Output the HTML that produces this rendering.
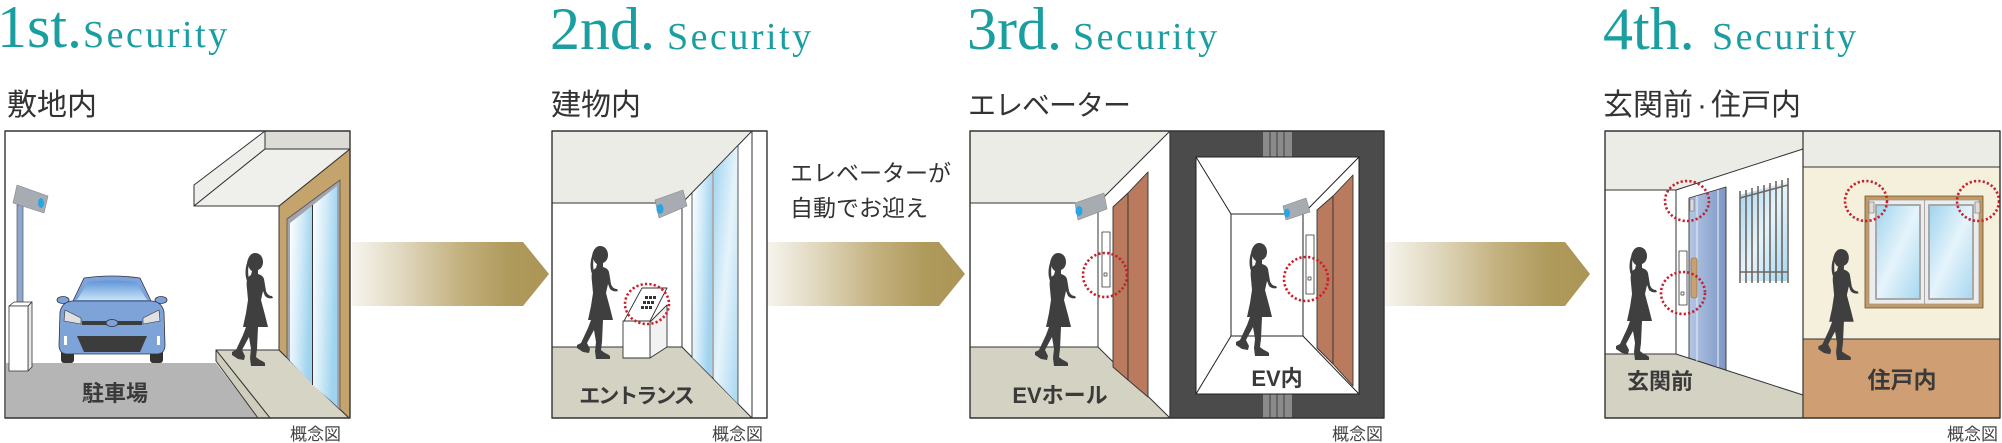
<!DOCTYPE html>
<html><head><meta charset="utf-8"><style>
html,body{margin:0;padding:0;background:#fff;}
svg{display:block;}
.jp{font-family:"Liberation Sans","Noto Sans CJK JP",sans-serif;}
.lbl{font-family:"Liberation Sans","Noto Sans CJK JP",sans-serif;font-weight:bold;fill:#3a3a3a;text-anchor:middle;}
.gn{font-family:"Liberation Sans","Noto Sans CJK JP",sans-serif;fill:#444;text-anchor:end;font-size:17px;}
.ttl{font-family:"Liberation Serif",serif;fill:#1a9ea0;}
</style></head><body>
<svg width="2002" height="443" viewBox="0 0 2002 443" xmlns="http://www.w3.org/2000/svg">
<defs>
<linearGradient id="ag" x1="0" y1="0" x2="1" y2="0">
<stop offset="0" stop-color="#f6f4ee"/><stop offset="0.25" stop-color="#e0d8bf"/><stop offset="0.55" stop-color="#c3b17f"/><stop offset="0.8" stop-color="#af9a5c"/><stop offset="1" stop-color="#ab9556"/>
</linearGradient>
<linearGradient id="gl" x1="0" y1="0" x2="1" y2="0.3">
<stop offset="0" stop-color="#ffffff"/><stop offset="0.5" stop-color="#d4ecf8"/><stop offset="1" stop-color="#9fd3ef"/>
</linearGradient>
<linearGradient id="gl2" x1="0" y1="0" x2="1" y2="1">
<stop offset="0" stop-color="#9fd3ef"/><stop offset="0.5" stop-color="#e6f4fb"/><stop offset="1" stop-color="#a6d7f1"/>
</linearGradient>
<linearGradient id="ws" x1="0" y1="0" x2="0" y2="1">
<stop offset="0" stop-color="#5f95d8"/><stop offset="1" stop-color="#c5e2f6"/>
</linearGradient>
<linearGradient id="dr" x1="0" y1="0" x2="1" y2="0">
<stop offset="0" stop-color="#b4c6e4"/><stop offset="1" stop-color="#7e97c4"/>
</linearGradient>
<symbol id="p" viewBox="0 0 42 115">
<path fill="#3f3f3f" d="M23,0 C28,0 31,4 31,9 C31,13 29,16 26,17 L26,21 C29,22 31,23 32,26 L34,38 C35,41 37,43 40,43 L41,45 C38,46 35,45 33,43 L31,38 L29,47 L33,62 L36,74 L26,74 L25,96 L24,104 C27,107 31,108 33,110 L33,113 L19,113 L18,105 L19,96 L17,84 L10,97 L13,103 L12,107 L6,106 L0,102 L0,99 L4,97 L11,82 L14,74 L11,74 L14,60 L16,47 L15,36 C14,28 15,24 19,22 L20,18 C18,17 17,15 16.5,13 C16,17 16,22 17,26 L15,28 C13,23 13,16 15,10 C16,4 19,0 23,0 Z"/>
</symbol>
</defs>

<!-- Titles -->
<text class="ttl" x="-3" y="47"><tspan font-size="60">1st.</tspan><tspan x="83" font-size="38" letter-spacing="2.5">Security</tspan></text>
<text class="ttl" x="550" y="49"><tspan font-size="60">2nd.</tspan><tspan x="667" font-size="38" letter-spacing="2.5">Security</tspan></text>
<text class="ttl" x="967" y="49"><tspan font-size="60">3rd.</tspan><tspan x="1073" font-size="38" letter-spacing="2.5">Security</tspan></text>
<text class="ttl" x="1603" y="49"><tspan font-size="60">4th.</tspan><tspan x="1712" font-size="38" letter-spacing="2.5">Security</tspan></text>

<!-- Headings -->
<text class="jp" x="7" y="115" font-size="30" fill="#333">敷地内</text>
<text class="jp" x="551" y="115" font-size="30" fill="#333">建物内</text>
<text class="jp" x="968" y="115" font-size="28" letter-spacing="-1" fill="#333">エレベーター</text>
<text class="jp" x="1603" y="115" font-size="30" fill="#333">玄関前<tspan dx="4">·</tspan><tspan dx="4">住戸内</tspan></text>

<!-- Arrow 2 caption -->
<text class="jp" x="790" y="181" font-size="23" fill="#333">エレベーターが</text>
<text class="jp" x="790" y="216" font-size="23" fill="#333">自動でお迎え</text>

<!-- Arrows -->
<polygon points="352,242 523,242 549,274 523,306 352,306" fill="url(#ag)"/>
<polygon points="767,242 939,242 965,274 939,306 767,306" fill="url(#ag)"/>
<polygon points="1385,242 1565,242 1590,274 1565,306 1385,306" fill="url(#ag)"/>

<!-- ================= PANEL 1 ================= -->
<g stroke-linejoin="round">
<rect x="5" y="131" width="345" height="287" fill="#fff"/>
<polygon points="6,363 216,363 258,418 6,418" fill="#b5b5b5"/>
<polygon points="216,350 279,350 349,418 270,418" fill="#d6d4c4" stroke="#333" stroke-width="1"/>
<polygon points="216,350 270,418 258,418 216,361" fill="#cfcdbc" stroke="#333" stroke-width="1"/>
<polygon points="279,206 350,149 350,418 349,418 279,350" fill="#c4a46c" stroke="#333" stroke-width="1"/>
<polygon points="287,219 340,180 340,410 287,358" fill="#a2a3ad" stroke="#555" stroke-width="0.8"/>
<polygon points="290,223 312,206 312,384 290,361" fill="url(#gl)"/>
<polygon points="313,205 337,186 337,406 313,385" fill="url(#gl)"/>
<line x1="312.5" y1="205" x2="312.5" y2="385" stroke="#333" stroke-width="1"/>
<polygon points="194,185 265,131 265,149 194,206" fill="#eeeeea" stroke="#333" stroke-width="1"/>
<polygon points="194,206 265,149 350,149 279,206" fill="#efefeb" stroke="#333" stroke-width="1"/>
<rect x="265" y="131" width="85" height="18" fill="#dcdbd6" stroke="#333" stroke-width="1"/>
<rect x="17" y="205" width="6" height="100" fill="#8ea7cc" stroke="#556" stroke-width="0.7"/>
<polygon points="17,185 48,196 44,213 13,203" fill="#a7abb2" stroke="#888" stroke-width="0.6"/>
<ellipse cx="41" cy="203" rx="3" ry="5" fill="#28a5e2"/>
<polygon points="9,306 14,302 32,302 28,306" fill="#fff" stroke="#333" stroke-width="0.8"/>
<polygon points="28,306 32,302 32,367 28,371" fill="#e8e8e8" stroke="#333" stroke-width="0.8"/>
<rect x="9" y="306" width="19" height="65" fill="#fff" stroke="#333" stroke-width="0.8"/>
<rect x="61" y="348" width="13" height="15" rx="3" fill="#333"/>
<rect x="150" y="348" width="13" height="15" rx="3" fill="#333"/>
<ellipse cx="63" cy="300" rx="6" ry="3.5" fill="#7ea3d8" stroke="#334" stroke-width="0.8"/>
<ellipse cx="161" cy="300" rx="6" ry="3.5" fill="#7ea3d8" stroke="#334" stroke-width="0.8"/>
<path d="M72,303 L84,278 Q112,274 140,278 L152,303 Z" fill="#7ea3d8" stroke="#334" stroke-width="0.8"/>
<path d="M77,300 L88,282 Q112,279 136,282 L147,300 Z" fill="url(#ws)"/>
<path d="M60,312 Q62,302 72,301 L152,301 Q162,302 164,312 L165,345 Q165,353 158,354 L66,354 Q59,353 59,345 Z" fill="#7ea3d8" stroke="#334" stroke-width="0.8"/>
<polygon points="65,310 81,318 81,324 64,321" fill="#e0e0e0" stroke="#333" stroke-width="0.6"/>
<polygon points="159,310 143,318 143,324 160,321" fill="#e0e0e0" stroke="#333" stroke-width="0.6"/>
<rect x="82" y="321" width="60" height="4" fill="#3c3c3c"/>
<ellipse cx="112" cy="323" rx="6" ry="3.5" fill="#7ea3d8" stroke="#333" stroke-width="0.8"/>
<polygon points="77,336 147,336 140,352 84,352" fill="#3c3c3c"/>
<rect x="64" y="336" width="3" height="9" fill="#fff"/>
<rect x="157" y="336" width="3" height="9" fill="#fff"/>
<use href="#p" x="232" y="253" width="42" height="115"/>
<rect x="5" y="131" width="345" height="287" fill="none" stroke="#333" stroke-width="1.4"/>
</g>
<text class="lbl" x="115" y="401" font-size="22">駐車場</text>
<text class="gn" x="341" y="440">概念図</text>

<!-- ================= PANEL 2 ================= -->
<g stroke-linejoin="round">
<rect x="552" y="131" width="215" height="287" fill="#fff"/>
<polygon points="552,131 752,131 682,203 552,203" fill="#ecece7" stroke="#333" stroke-width="1"/>
<polygon points="552,347 682,347 752,418 552,418" fill="#d4d2c2" stroke="#333" stroke-width="1"/>
<line x1="682" y1="203" x2="682" y2="347" stroke="#333" stroke-width="1"/>
<polygon points="692,194 712,173 712,377 692,357" fill="url(#gl)"/>
<polygon points="714,171 738,146 738,404 714,379" fill="url(#gl2)"/>
<line x1="692" y1="193" x2="692" y2="358" stroke="#333" stroke-width="0.8"/>
<line x1="713" y1="172" x2="713" y2="378" stroke="#333" stroke-width="0.8"/>
<line x1="738" y1="146" x2="738" y2="404" stroke="#333" stroke-width="0.8"/>
<line x1="752" y1="131" x2="752" y2="418" stroke="#333" stroke-width="1"/>
<polygon points="655,200 683,190 687,206 659,218" fill="#a7abb2" stroke="#888" stroke-width="0.6"/>
<ellipse cx="660" cy="209" rx="3.5" ry="5" fill="#28a5e2"/>
<polygon points="650,322 667,305 667,347 650,358" fill="#f2f2f2" stroke="#333" stroke-width="0.9"/>
<rect x="623" y="321" width="27" height="37" fill="#fff" stroke="#333" stroke-width="0.9"/>
<polygon points="624,321 642,288 667,288 650,321" fill="#fff" stroke="#333" stroke-width="0.9"/>
<g fill="#333">
<rect x="645" y="296" width="3" height="3"/><rect x="649" y="296" width="3" height="3"/><rect x="653" y="296" width="3" height="3"/>
<rect x="643" y="301" width="3" height="3"/><rect x="647" y="301" width="3" height="3"/><rect x="651" y="301" width="3" height="3"/>
<rect x="641" y="306" width="3" height="3"/><rect x="645" y="306" width="3" height="3"/><rect x="649" y="306" width="3" height="3"/>
</g>
<ellipse cx="647" cy="304" rx="22" ry="20" fill="none" stroke="#c8202d" stroke-width="2.6" stroke-dasharray="2.2 2.2"/>
<use href="#p" x="577" y="246" width="42" height="115"/>
<rect x="552" y="131" width="215" height="287" fill="none" stroke="#333" stroke-width="1.4"/>
</g>
<text class="lbl" x="636" y="403" font-size="21" letter-spacing="-2">エントランス</text>
<text class="gn" x="763" y="440">概念図</text>

<!-- ================= PANEL 3 ================= -->
<g stroke-linejoin="round">
<rect x="970" y="131" width="200" height="287" fill="#fff"/>
<polygon points="970,131 1170,131 1098,203 970,203" fill="#ecece7" stroke="#333" stroke-width="1"/>
<polygon points="970,347 1098,347 1170,418 970,418" fill="#d4d2c2" stroke="#333" stroke-width="1"/>
<line x1="1098" y1="203" x2="1098" y2="347" stroke="#333" stroke-width="1"/>
<polygon points="1113,207 1128,193 1128,380 1113,367" fill="#b97a5d" stroke="#333" stroke-width="0.9"/>
<polygon points="1128,193 1148,172 1148,397 1128,380" fill="#b97a5d" stroke="#333" stroke-width="0.9"/>
<rect x="1102" y="232" width="8" height="55" fill="#fff" stroke="#333" stroke-width="0.8"/>
<rect x="1104" y="273" width="3" height="3" fill="none" stroke="#333" stroke-width="0.7"/>
<polygon points="1075,203 1104,193 1107,209 1078,220" fill="#a7abb2" stroke="#888" stroke-width="0.6"/>
<ellipse cx="1079" cy="211" rx="3.5" ry="5" fill="#28a5e2"/>
<ellipse cx="1105" cy="275" rx="22" ry="22" fill="none" stroke="#c8202d" stroke-width="2.6" stroke-dasharray="2.2 2.2"/>
<use href="#p" x="1035" y="253" width="42" height="115"/>
<rect x="1170" y="131" width="214" height="287" fill="#4b4b4b"/>
<rect x="1263" y="132" width="29" height="25" fill="#8a8a8a"/>
<rect x="1263" y="394" width="29" height="24" fill="#8a8a8a"/>
<g stroke="#4b4b4b" stroke-width="1.2">
<line x1="1270" y1="132" x2="1270" y2="157"/><line x1="1277" y1="132" x2="1277" y2="157"/><line x1="1284" y1="132" x2="1284" y2="157"/>
<line x1="1270" y1="394" x2="1270" y2="418"/><line x1="1277" y1="394" x2="1277" y2="418"/><line x1="1284" y1="394" x2="1284" y2="418"/>
</g>
<rect x="1196" y="157" width="163" height="237" fill="#fff" stroke="#222" stroke-width="1"/>
<rect x="1231" y="214" width="72" height="122" fill="#fff" stroke="#222" stroke-width="1"/>
<g stroke="#222" stroke-width="1">
<line x1="1196" y1="157" x2="1231" y2="214"/><line x1="1359" y1="157" x2="1303" y2="214"/>
<line x1="1196" y1="394" x2="1231" y2="336"/><line x1="1359" y1="394" x2="1303" y2="336"/>
</g>
<polygon points="1317,210 1333,196 1333,364 1317,348" fill="#b97a5d" stroke="#333" stroke-width="0.9"/>
<polygon points="1333,196 1353,175 1353,386 1333,364" fill="#b97a5d" stroke="#333" stroke-width="0.9"/>
<rect x="1306" y="235" width="8" height="59" fill="#fff" stroke="#333" stroke-width="0.8"/>
<rect x="1308" y="277" width="3" height="3" fill="none" stroke="#333" stroke-width="0.7"/>
<polygon points="1283,206 1306,198 1310,212 1286,220" fill="#a7abb2" stroke="#888" stroke-width="0.6"/>
<ellipse cx="1287" cy="213" rx="3" ry="4.5" fill="#28a5e2"/>
<ellipse cx="1306" cy="279" rx="22" ry="22" fill="none" stroke="#c8202d" stroke-width="2.6" stroke-dasharray="2.2 2.2"/>
<use href="#p" x="1236" y="243" width="42" height="115"/>
<rect x="970" y="131" width="414" height="287" fill="none" stroke="#333" stroke-width="1.4"/>
<line x1="1170" y1="131" x2="1170" y2="418" stroke="#333" stroke-width="1.2"/>
</g>
<text class="lbl" x="1060" y="403" font-size="22">EVホール</text>
<text class="lbl" x="1277" y="386" font-size="22">EV内</text>
<text class="gn" x="1383" y="440">概念図</text>

<!-- ================= PANEL 4 ================= -->
<g stroke-linejoin="round">
<rect x="1605" y="131" width="198" height="287" fill="#fff"/>
<polygon points="1605,131 1803,131 1803,149 1676,190 1605,190" fill="#ecece7"/>
<polygon points="1605,354 1676,354 1803,395 1803,418 1605,418" fill="#d4d2c2"/>
<g stroke="#333" stroke-width="1">
<line x1="1605" y1="190" x2="1676" y2="190"/><line x1="1676" y1="190" x2="1803" y2="149"/>
<line x1="1676" y1="190" x2="1676" y2="354"/><line x1="1605" y1="354" x2="1676" y2="354"/>
<line x1="1676" y1="354" x2="1803" y2="395"/>
</g>
<polygon points="1689,198 1726,187 1726,370 1689,358" fill="url(#dr)" stroke="#333" stroke-width="0.9"/>
<line x1="1697" y1="196" x2="1697" y2="361" stroke="#dfe6f2" stroke-width="1.2"/>
<line x1="1718" y1="190" x2="1718" y2="367" stroke="#dfe6f2" stroke-width="1.2"/>
<rect x="1690" y="199" width="4" height="12" fill="#ddd" stroke="#666" stroke-width="0.6"/>
<rect x="1691" y="258" width="6" height="40" rx="2" fill="#c9a070" stroke="#8a6a40" stroke-width="0.6"/>
<rect x="1679" y="251" width="8" height="54" fill="#fff" stroke="#333" stroke-width="0.8"/>
<rect x="1681" y="292" width="3" height="3" fill="none" stroke="#333" stroke-width="0.7"/>
<polygon points="1740,195 1787,182 1787,281 1740,281" fill="url(#gl2)"/>
<g stroke="#6e6660" stroke-width="1.6">
<line x1="1740" y1="191" x2="1740" y2="283"/><line x1="1746" y1="190" x2="1746" y2="283"/>
<line x1="1752" y1="188" x2="1752" y2="283"/><line x1="1758" y1="186" x2="1758" y2="283"/>
<line x1="1764" y1="185" x2="1764" y2="283"/><line x1="1770" y1="183" x2="1770" y2="283"/>
<line x1="1776" y1="181" x2="1776" y2="283"/><line x1="1782" y1="180" x2="1782" y2="283"/>
<line x1="1788" y1="178" x2="1788" y2="283"/>
<line x1="1740" y1="198" x2="1788" y2="185"/>
<line x1="1740" y1="272" x2="1788" y2="272"/>
</g>
<ellipse cx="1687" cy="201" rx="22" ry="20" fill="none" stroke="#c8202d" stroke-width="2.6" stroke-dasharray="2.2 2.2"/>
<ellipse cx="1683" cy="293" rx="22" ry="21" fill="none" stroke="#c8202d" stroke-width="2.6" stroke-dasharray="2.2 2.2"/>
<use href="#p" x="1616" y="247" width="42" height="115"/>
<rect x="1803" y="131" width="197" height="36" fill="#ecece7"/>
<rect x="1803" y="167" width="197" height="172" fill="#f4f0dc"/>
<rect x="1803" y="339" width="197" height="79" fill="#cf9f73"/>
<line x1="1803" y1="167" x2="2000" y2="167" stroke="#333" stroke-width="1"/>
<line x1="1803" y1="339" x2="2000" y2="339" stroke="#333" stroke-width="1"/>
<rect x="1865" y="196" width="118" height="112" fill="#c39a64" stroke="#6b5030" stroke-width="0.8"/>
<rect x="1869" y="200" width="110" height="104" fill="#ececec" stroke="#999" stroke-width="0.8"/>
<rect x="1876" y="205" width="44" height="94" fill="url(#gl2)" stroke="#a8a8a8" stroke-width="2"/>
<rect x="1929" y="205" width="44" height="94" fill="url(#gl2)" stroke="#a8a8a8" stroke-width="2"/>
<line x1="1924.5" y1="200" x2="1924.5" y2="304" stroke="#999" stroke-width="0.8"/>
<rect x="1869" y="202" width="5" height="11" fill="#ddd" stroke="#666" stroke-width="0.6"/>
<rect x="1975" y="202" width="5" height="11" fill="#ddd" stroke="#666" stroke-width="0.6"/>
<ellipse cx="1866" cy="201" rx="21" ry="20" fill="none" stroke="#c8202d" stroke-width="2.6" stroke-dasharray="2.2 2.2"/>
<ellipse cx="1978" cy="201" rx="21" ry="20" fill="none" stroke="#c8202d" stroke-width="2.6" stroke-dasharray="2.2 2.2"/>
<use href="#p" x="1818" y="249" width="42" height="113"/>
<rect x="1605" y="131" width="395" height="287" fill="none" stroke="#333" stroke-width="1.4"/>
<line x1="1803" y1="131" x2="1803" y2="418" stroke="#333" stroke-width="1.2"/>
</g>
<text class="lbl" x="1660" y="389" font-size="22">玄関前</text>
<text class="lbl" x="1902" y="388" font-size="23">住戸内</text>
<text class="gn" x="1998" y="440">概念図</text>
</svg>
</body></html>
